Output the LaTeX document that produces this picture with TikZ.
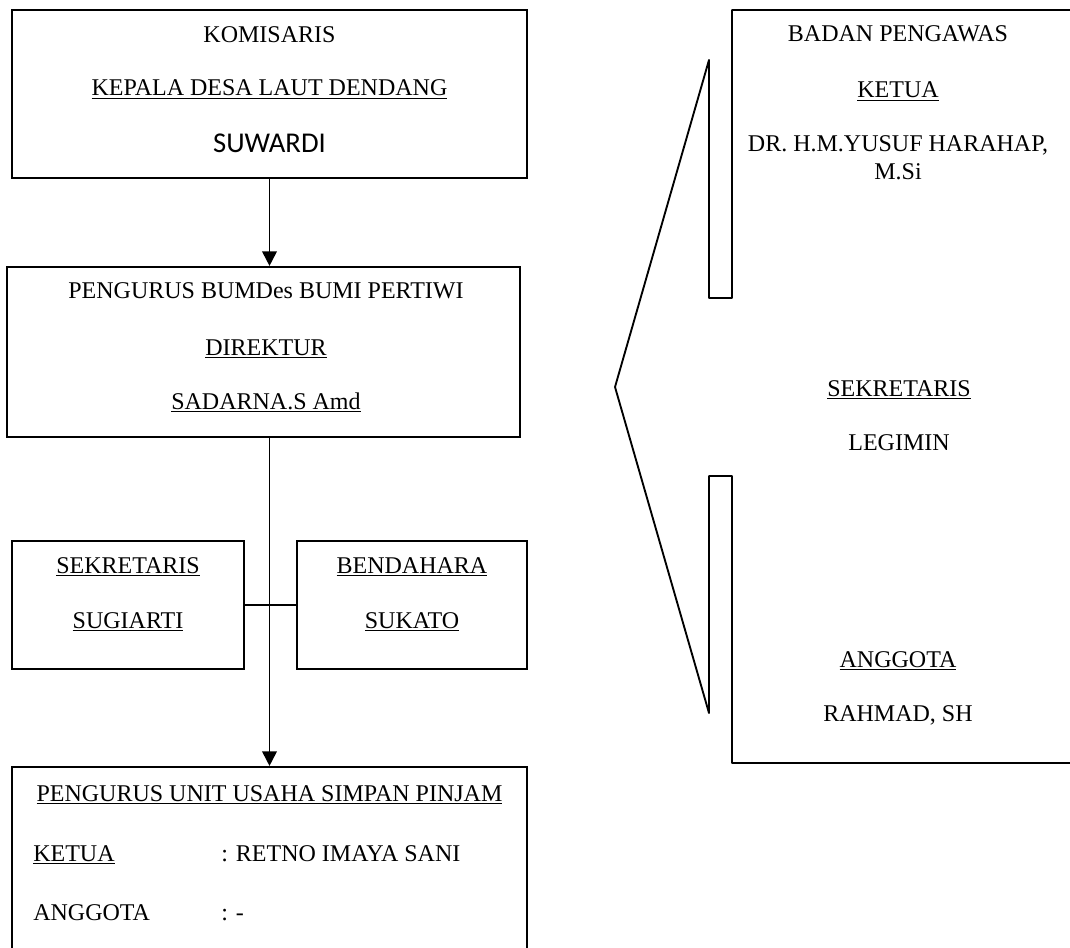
\documentclass[tikz,border=0pt]{standalone}
\usepackage{fontspec}
\setmainfont{Liberation Serif}
\newfontfamily\calibrifont{Carlito}
\usetikzlibrary{arrows.meta}

\begin{document}
\begin{tikzpicture}[x=0.75pt,y=-0.75pt,
    box/.style={draw,line width=1.6pt,inner sep=0pt},
    txt/.style={anchor=base,inner sep=0pt,font=\fontsize{18}{21}\selectfont},
    link/.style={line width=1.4pt},
    arr/.style={line width=1.4pt,-{Triangle[length=11pt,width=11pt]}}]

        \useasboundingbox (0,0) rectangle (1070,948);
        \clip (0,0) rectangle (1070,948);

        % Boxes of the left column
        \node[box,minimum width=386.25pt,minimum height=126pt] (kom) at (269.5,94) {};
        \node[box,minimum width=384.75pt,minimum height=127.5pt] (dir) at (263.5,352) {};
        \node[box,minimum width=174pt,minimum height=96pt] (sek) at (128,605) {};
        \node[box,minimum width=172.5pt,minimum height=96pt] (ben) at (412,605) {};
        \node[box,minimum width=386.25pt,minimum height=174.75pt] (unit) at (269.5,883.5) {};

        % Komisaris
        \node[txt] (tKom) at (269.5,43) {KOMISARIS};
        \node[txt] (tKades) at (269.5,96) {\underline{KEPALA DESA LAUT DENDANG}};
        \node[txt,font=\calibrifont\fontsize{21.5}{25}\selectfont] (tSuwardi) at (269.5,153) {SUWARDI};

        % Pengurus BUMDes
        \node[txt] (tPengurus) at (266,299) {PENGURUS BUMDes BUMI PERTIWI};
        \node[txt] (tDirektur) at (266,355) {\underline{DIREKTUR}};
        \node[txt] (tSadarna) at (266,409) {\underline{SADARNA.S Amd}};

        % Sekretaris and bendahara
        \node[txt] (tSekr) at (128,573) {\underline{SEKRETARIS}};
        \node[txt] (tSugiarti) at (128,628) {\underline{SUGIARTI}};
        \node[txt] (tBend) at (412,573) {\underline{BENDAHARA}};
        \node[txt] (tSukato) at (412,628) {\underline{SUKATO}};

        % Unit simpan pinjam
        \node[txt] (tUnit) at (269.5,801) {\underline{PENGURUS UNIT USAHA SIMPAN PINJAM}};
        \node[txt,anchor=base west] (tKetua) at (33,861) {\underline{KETUA}};
        \node[txt,anchor=base west] (tKetuaNm) at (221,861) {: RETNO IMAYA SANI};
        \node[txt,anchor=base west] (tAnggota) at (33,920) {ANGGOTA};
        \node[txt,anchor=base west] (tAnggotaNm) at (221,920) {: -};

        % Connectors
        \draw[arr] (kom.south) -- (kom.south |- dir.north);
        \draw[arr] (unit.north |- dir.south) -- (unit.north);
        \draw[link] (sek.east) -- (ben.west);

        % Badan pengawas (callout)
        \draw[link,line join=round] (1075,10) -- (732,10) -- (732,298) -- (709,298) -- (709,60)
            -- (615,387) -- (709,713) -- (709,476) -- (732,476) -- (732,763) -- (1075,763);

        \node[txt] (tBadan) at (898,42) {BADAN PENGAWAS};
        \node[txt] (tKetuaBp) at (898,98) {\underline{KETUA}};
        \node[txt,anchor=center,align=center] (tYusuf) at (898,158) {DR. H.M.YUSUF HARAHAP,\\M.Si};
        \node[txt] (tSekrBp) at (899,396) {\underline{SEKRETARIS}};
        \node[txt] (tLegimin) at (899,450) {LEGIMIN};
        \node[txt] (tAnggotaBp) at (898,667) {\underline{ANGGOTA}};
        \node[txt] (tRahmad) at (898,721) {RAHMAD, SH};

    \end{tikzpicture}
\end{document}
